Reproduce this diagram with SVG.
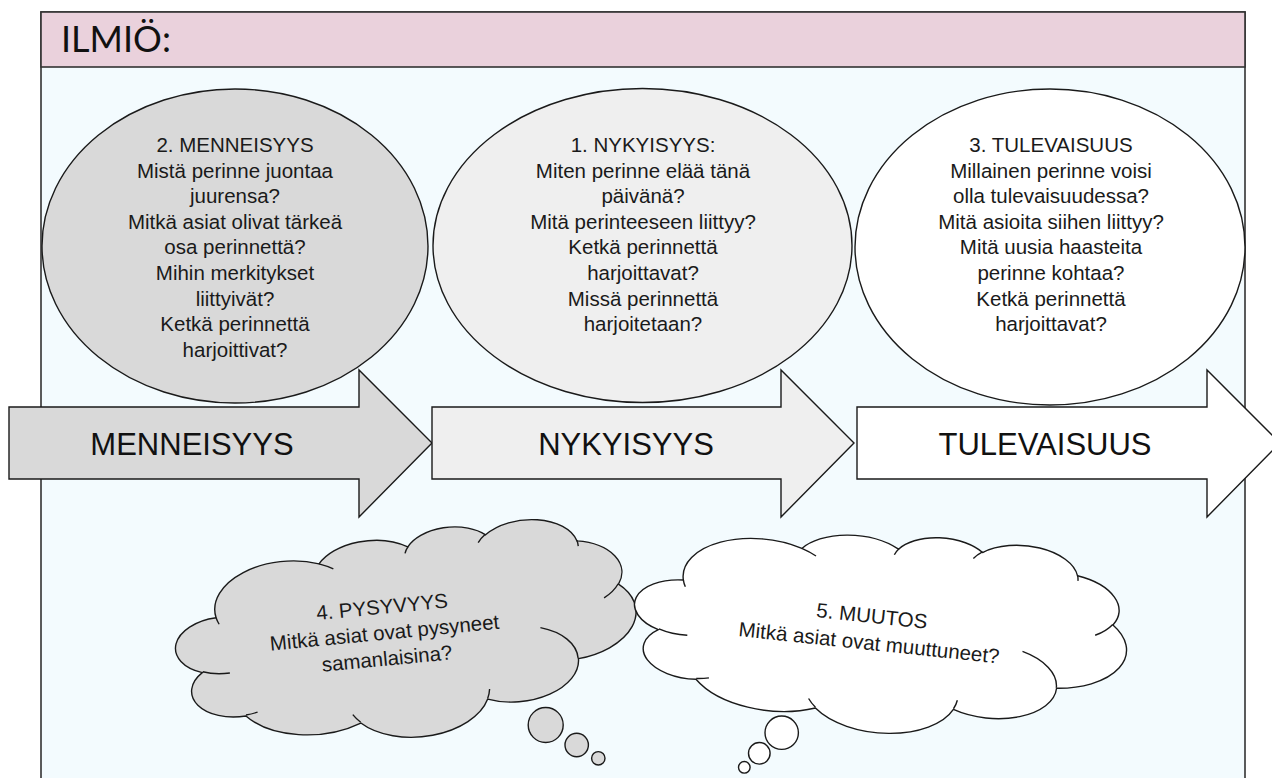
<svg xmlns="http://www.w3.org/2000/svg" width="1272" height="778" viewBox="0 0 1272 778">
  <style>
    .frame { fill: #F3FBFE; stroke: #333333; stroke-width: 1.6; }
    .header { fill: #EAD1DC; stroke: #333333; stroke-width: 1.6; }
    .shape { stroke: #1a1a1a; stroke-width: 1.4; }
    .dark { fill: #D9D9D9; }
    .mid { fill: #EFEFEF; }
    .light { fill: #FFFFFF; }
    .inner { fill: none; stroke: #1a1a1a; stroke-width: 1.4; vector-effect: non-scaling-stroke; }
    .cloud { stroke: #1a1a1a; stroke-width: 1.4; vector-effect: non-scaling-stroke; }
    .t { font-family: "Liberation Sans", Arial, sans-serif; font-size: 20.5px; fill: #1a1a1a; text-anchor: middle; }
    .big { font-family: "Liberation Sans", Arial, sans-serif; font-size: 31px; fill: #111111; text-anchor: middle; }
    .title { font-family: Lato, "Open Sans", sans-serif; font-size: 36px; fill: #111111; }
  </style>

  <g id="frame">
    <rect class="frame" x="41" y="12" width="1204" height="790"/>
    <rect class="header" x="41" y="12" width="1204" height="55"/>
    <text class="title" x="61" y="52">ILMIÖ:</text>
  </g>

  <g id="menneisyys-ellipse">
    <ellipse class="shape dark" cx="235" cy="246" rx="193" ry="157"/>
    <text class="t" x="235" y="152">2. MENNEISYYS</text>
    <text class="t" x="235" y="177.6">Mistä perinne juontaa</text>
    <text class="t" x="235" y="203.2">juurensa?</text>
    <text class="t" x="235" y="228.8">Mitkä asiat olivat tärkeä</text>
    <text class="t" x="235" y="254.4">osa perinnettä?</text>
    <text class="t" x="235" y="280">Mihin merkitykset</text>
    <text class="t" x="235" y="305.6">liittyivät?</text>
    <text class="t" x="235" y="331.2">Ketkä perinnettä</text>
    <text class="t" x="235" y="356.8">harjoittivat?</text>
  </g>

  <g id="nykyisyys-ellipse">
    <ellipse class="shape mid" cx="642.5" cy="245.5" rx="209.5" ry="157"/>
    <text class="t" x="643" y="152">1. NYKYISYYS:</text>
    <text class="t" x="643" y="177.6">Miten perinne elää tänä</text>
    <text class="t" x="643" y="203.2">päivänä?</text>
    <text class="t" x="643" y="228.8">Mitä perinteeseen liittyy?</text>
    <text class="t" x="643" y="254.4">Ketkä perinnettä</text>
    <text class="t" x="643" y="280">harjoittavat?</text>
    <text class="t" x="643" y="305.6">Missä perinnettä</text>
    <text class="t" x="643" y="331.2">harjoitetaan?</text>
  </g>

  <g id="tulevaisuus-ellipse">
    <ellipse class="shape light" cx="1050" cy="247" rx="195" ry="158"/>
    <text class="t" x="1051" y="152">3. TULEVAISUUS</text>
    <text class="t" x="1051" y="177.6">Millainen perinne voisi</text>
    <text class="t" x="1051" y="203.2">olla tulevaisuudessa?</text>
    <text class="t" x="1051" y="228.8">Mitä asioita siihen liittyy?</text>
    <text class="t" x="1051" y="254.4">Mitä uusia haasteita</text>
    <text class="t" x="1051" y="280">perinne kohtaa?</text>
    <text class="t" x="1051" y="305.6">Ketkä perinnettä</text>
    <text class="t" x="1051" y="331.2">harjoittavat?</text>
  </g>

  <g id="menneisyys-arrow">
    <polygon class="shape dark" points="9,407 359,407 359,370 432,443 359,517 359,479 9,479"/>
    <text class="big" x="192" y="455">MENNEISYYS</text>
  </g>

  <g id="nykyisyys-arrow">
    <polygon class="shape mid" points="432,407 781,407 781,370 854,443 781,517 781,479 432,479"/>
    <text class="big" x="626" y="455">NYKYISYYS</text>
  </g>

  <g id="tulevaisuus-arrow">
    <polygon class="shape light" points="857,407 1207,407 1207,370 1280,443 1207,517 1207,479 857,479"/>
    <text class="big" x="1045" y="455">TULEVAISUUS</text>
  </g>

  <g id="pysyvyys-cloud">
    <g transform="translate(407,634) rotate(-5.5) scale(0.010648,0.0047685) translate(-21600,-21600)">
      <path class="cloud dark" d="M3900 14370 A6753 9190 0 0 1 14005 5202 A5333 7267 0 0 1 22459 3430 A4365 5945 0 0 1 29836 2478 A4857 6595 0 0 1 38321 5573 A5333 7273 0 0 1 41821 15457 A6775 9220 0 0 1 37406 30199 A5785 7867 0 0 1 28558 36809 A6752 9215 0 0 1 16483 39262 A7720 10543 0 0 1 5807 35467 A4360 5918 0 0 1 2115 25546 A4345 5945 0 0 1 3900 14370 Z"/>
      <path class="inner" d="M4693 26177 A4345 5945 0 0 1 2160 25380 M6928 34899 A4360 5918 0 0 1 5820 35281 M16478 39090 A6752 9215 0 0 1 15809 37348 M28827 34751 A6752 9215 0 0 1 28560 36660 M34129 22954 A5785 7867 0 0 1 37381 30090 M41798 15354 A5333 7273 0 0 1 40350 18031 M38324 5426 A4857 6595 0 0 1 38401 6690 M29078 3952 A4857 6595 0 0 1 29820 2340 M22141 4720 A4365 5945 0 0 1 22500 3331 M14000 5192 A6753 9190 0 0 1 15301 6542 M4127 15789 A6753 9190 0 0 1 3900 14371"/>
    </g>
    <circle class="shape dark" cx="545.7" cy="725" r="17.5"/>
    <circle class="shape dark" cx="576.7" cy="745" r="11.7"/>
    <circle class="shape dark" cx="598.3" cy="758.3" r="6.7"/>
    <g transform="translate(384.5,632.7) rotate(-5.5)">
      <text class="t" x="0" y="-19">4. PYSYVYYS</text>
      <text class="t" x="0" y="7">Mitkä asiat ovat pysyneet</text>
      <text class="t" x="0" y="33">samanlaisina?</text>
    </g>
  </g>

  <g id="muutos-cloud">
    <g transform="translate(881,632) rotate(5.3) scale(0.011389,0.0046296) translate(-21600,-21600)">
      <path class="cloud light" d="M3900 14370 A6753 9190 0 0 1 14005 5202 A5333 7267 0 0 1 22459 3430 A4365 5945 0 0 1 29836 2478 A4857 6595 0 0 1 38321 5573 A5333 7273 0 0 1 41821 15457 A6775 9220 0 0 1 37406 30199 A5785 7867 0 0 1 28558 36809 A6752 9215 0 0 1 16483 39262 A7720 10543 0 0 1 5807 35467 A4360 5918 0 0 1 2115 25546 A4345 5945 0 0 1 3900 14370 Z"/>
      <path class="inner" d="M4693 26177 A4345 5945 0 0 1 2160 25380 M6928 34899 A4360 5918 0 0 1 5820 35281 M16478 39090 A6752 9215 0 0 1 15809 37348 M28827 34751 A6752 9215 0 0 1 28560 36660 M34129 22954 A5785 7867 0 0 1 37381 30090 M41798 15354 A5333 7273 0 0 1 40350 18031 M38324 5426 A4857 6595 0 0 1 38401 6690 M29078 3952 A4857 6595 0 0 1 29820 2340 M22141 4720 A4365 5945 0 0 1 22500 3331 M14000 5192 A6753 9190 0 0 1 15301 6542 M4127 15789 A6753 9190 0 0 1 3900 14371"/>
    </g>
    <circle class="shape light" cx="781.7" cy="732.7" r="16.7"/>
    <circle class="shape light" cx="759.3" cy="753.3" r="10.8"/>
    <circle class="shape light" cx="744.3" cy="767.3" r="5.8"/>
    <g transform="translate(870.5,629.4) rotate(6)">
      <text class="t" x="0" y="-6.5">5. MUUTOS</text>
      <text class="t" x="0" y="20.5">Mitkä asiat ovat muuttuneet?</text>
    </g>
  </g>
</svg>
